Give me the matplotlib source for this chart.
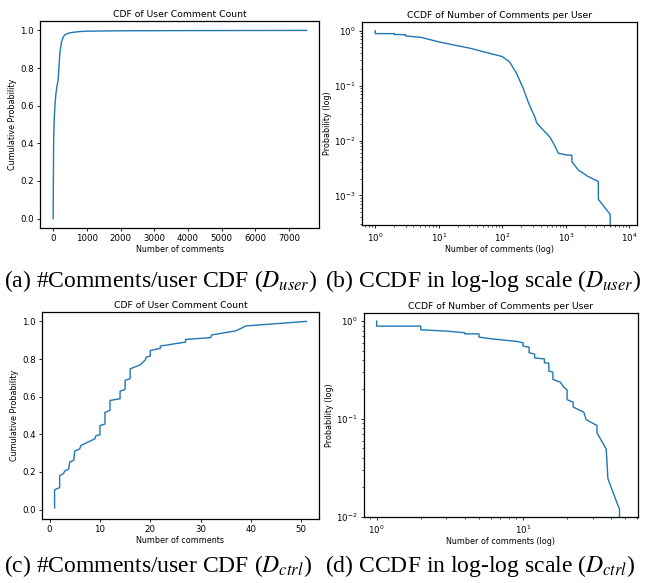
import numpy as np
import matplotlib
matplotlib.use('Agg')
import matplotlib.pyplot as plt

# D_user: CDF
user_cdf_x = [0, 15, 30, 50, 80, 120, 148, 198, 247, 300, 346, 450, 593, 800, 990, 2000, 4000, 7520]
user_cdf_y = [0.0, 0.42, 0.52, 0.59, 0.66, 0.71, 0.735, 0.877, 0.938, 0.965, 0.977, 0.985, 0.99, 0.994, 0.996, 0.998, 0.999, 1.0]

# D_user: CCDF
user_ccdf_x = [1, 1, 2, 2, 3, 3, 5.3, 10, 31.6, 100, 131, 168, 214, 255, 290, 326, 348, 416, 562, 640,
               765, 1000, 1245, 1250, 1580, 2270, 3250, 3260, 5000, 5000]
user_ccdf_y = [1.0, 0.89, 0.89, 0.86, 0.85, 0.81, 0.76, 0.63, 0.48, 0.34, 0.27, 0.168, 0.089, 0.051, 0.036,
               0.027, 0.021, 0.0167, 0.0116, 0.0089, 0.0059, 0.0055, 0.0054, 0.0041, 0.0029, 0.0022, 0.0018,
               0.00085, 0.00045, 0.0001]

# D_ctrl: CDF
ctrl_cdf_x = [1, 1, 2, 2, 2.8, 3, 3.8, 4, 4.8, 5, 6, 6.2, 9, 9.2, 10, 10, 11, 11, 12, 12, 14, 14, 15, 15,
              16, 16, 18, 18.2, 19, 19.2, 20, 20, 22, 22, 26, 27, 27, 32, 32.2, 37, 39, 51]
ctrl_cdf_y = [0.009, 0.105, 0.117, 0.18, 0.192, 0.205, 0.215, 0.253, 0.262, 0.311, 0.323, 0.34, 0.376, 0.393,
              0.397, 0.446, 0.455, 0.516, 0.528, 0.58, 0.589, 0.629, 0.638, 0.687, 0.696, 0.748, 0.769, 0.775,
              0.795, 0.81, 0.816, 0.845, 0.857, 0.869, 0.886, 0.89, 0.904, 0.914, 0.928, 0.95, 0.976, 1.0]

# D_ctrl: CCDF
ctrl_ccdf_x = [1, 1, 2, 2, 3, 4, 4, 5, 5, 6, 9, 10, 10, 11, 11, 12, 12, 14, 14, 15, 15, 16, 16, 18, 19, 20,
               20, 22, 22, 26, 27, 32, 32, 37, 38, 44.5, 45.6, 45.6]
ctrl_ccdf_y = [1.0, 0.889, 0.889, 0.815, 0.79, 0.76, 0.74, 0.74, 0.686, 0.66, 0.62, 0.6, 0.555, 0.54, 0.474,
               0.46, 0.42, 0.41, 0.375, 0.37, 0.308, 0.3, 0.253, 0.237, 0.21, 0.198, 0.157, 0.148, 0.132, 0.117,
               0.098, 0.0855, 0.072, 0.049, 0.0244, 0.013, 0.012, 0.001]

captions = [r'(a) #Comments/user CDF ($D_{user}$)', r'(b) CCDF in log-log scale ($D_{user}$)',
            r'(c) #Comments/user CDF ($D_{ctrl}$)', r'(d) CCDF in log-log scale ($D_{ctrl}$)']

W, H = 650, 583
fig = plt.figure(figsize=(6.5, 5.83), dpi=100)
plt.rcParams['mathtext.fontset'] = 'stix'

def box(l, t, r, b):
    return [l / W, 1 - b / H, (r - l) / W, (b - t) / H]

ax_a = fig.add_axes(box(40, 21, 319, 228))
ax_b = fig.add_axes(box(362, 22, 637, 225))
ax_c = fig.add_axes(box(42, 312, 319, 519))
ax_d = fig.add_axes(box(364, 313, 638, 517))

clr = '#1f77b4'
tfs, lfs, kfs = 6.7, 5.8, 6.2

def cdf_axes(ax, xs, ys, xlim):
    ax.plot(xs, ys, color=clr, lw=1.0)
    ax.set_xlim(*xlim)
    ax.set_ylim(-0.05, 1.05)
    ax.set_title('CDF of User Comment Count', fontsize=tfs, pad=3)
    ax.set_xlabel('Number of comments', fontsize=lfs, labelpad=1)
    ax.set_ylabel('Cumulative Probability', fontsize=lfs, labelpad=2)
    ax.set_yticks([0, 0.2, 0.4, 0.6, 0.8, 1.0])
    ax.tick_params(labelsize=kfs, length=2.5, width=0.6, pad=2)

def ccdf_axes(ax, xs, ys, xlim, ylim):
    ax.plot(xs, ys, color=clr, lw=1.0)
    ax.set_xscale('log')
    ax.set_yscale('log')
    ax.set_xlim(*xlim)
    ax.set_ylim(*ylim)
    ax.set_title('CCDF of Number of Comments per User', fontsize=tfs, pad=3)
    ax.set_xlabel('Number of comments (log)', fontsize=lfs, labelpad=1)
    ax.set_ylabel('Probability (log)', fontsize=lfs, labelpad=2)
    ax.tick_params(which='major', labelsize=kfs, length=2.5, width=0.6, pad=2)
    ax.tick_params(which='minor', length=1.5, width=0.5)

cdf_axes(ax_a, user_cdf_x, user_cdf_y, (-390, 7890))
ax_a.set_xticks(range(0, 8000, 1000))
ccdf_axes(ax_b, user_ccdf_x, user_ccdf_y, (0.62, 13200), (2.9e-4, 1.45))
cdf_axes(ax_c, ctrl_cdf_x, ctrl_cdf_y, (-1.5, 53.5))
ax_c.set_xticks(range(0, 60, 10))
ccdf_axes(ax_d, ctrl_ccdf_x, ctrl_ccdf_y, (0.82, 61), (0.0099, 1.21))

for ax in (ax_a, ax_b, ax_c, ax_d):
    for s in ax.spines.values():
        s.set_linewidth(0.9)

cap_font = dict(fontsize=17, family='Liberation Serif', ha='left', va='center')
fig.text(4 / W, 1 - 281 / H, captions[0], **cap_font)
fig.text(325 / W, 1 - 281 / H, captions[1], **cap_font)
fig.text(4 / W, 1 - 566 / H, captions[2], **cap_font)
fig.text(325 / W, 1 - 566 / H, captions[3], **cap_font)

fig.savefig('out.png', dpi=100)
